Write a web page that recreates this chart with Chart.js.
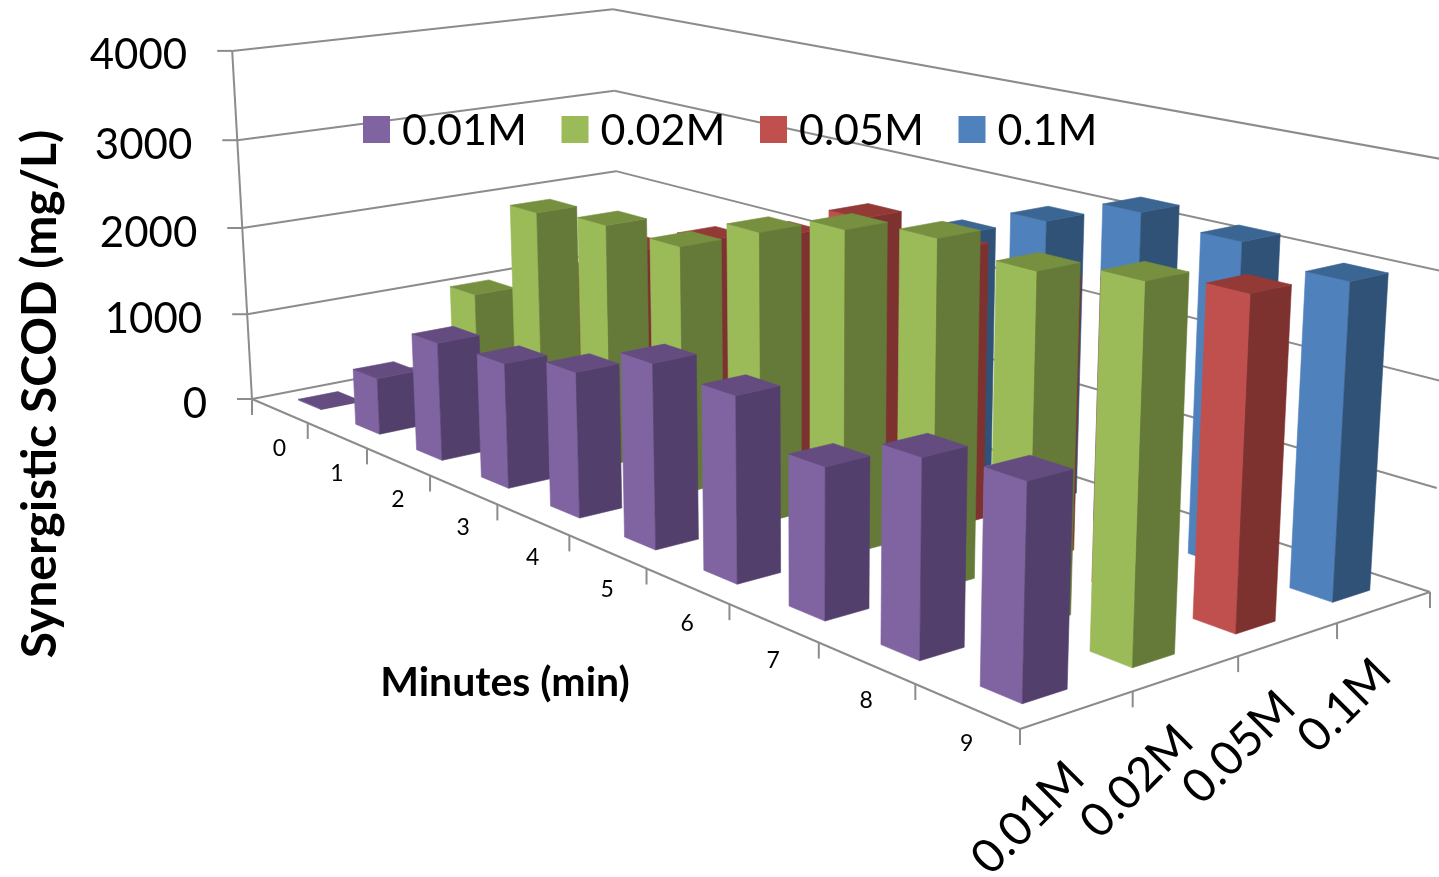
<!DOCTYPE html>
<html>
<head>
<meta charset="utf-8">
<title>Synergistic SCOD</title>
<script src="https://cdn.jsdelivr.net/npm/chart.js@4"></script>
<style>
  html, body { margin: 0; padding: 0; background: #fff; }
  canvas { display: block; }
</style>
</head>
<body>
<canvas id="chart" width="1439" height="877"></canvas>
<script>
const minutes = ["0", "1", "2", "3", "4", "5", "6", "7", "8", "9"];
const seriesNames = ["0.01M", "0.02M", "0.05M", "0.1M"];
const valueTicks = [0, 1000, 2000, 3000, 4000];

const conc001 = [10, 630, 1285, 1325, 1500, 1855, 1815, 1440, 1825, 1925];
const conc002 = [10, 1370, 2505, 2580, 2575, 2935, 3175, 3310, 3240, 3385];
const conc005 = [10, 1390, 1900, 2235, 2500, 2895, 2790, 2700, 2900, 3080];
const conc01 = [10, 1100, 1700, 1900, 2100, 2550, 2900, 3195, 3130, 2990];

const frontColors = ["#8064A2", "#9BBB59", "#C0504D", "#4F81BD"];
const sideColors = ["#533F6B", "#657A39", "#7D3230", "#305277"];
const topColors = ["#644B80", "#769040", "#933A37", "#3B6593"];

// floor corners and where the verticals converge
const cornerA = [252, 399];
const cornerB = [1020, 729];
const cornerC = [1430, 592];
const cornerD = [619, 328];
const vanish = [810, 10200];
const wallHeight = -0.0343;
const barShare = 0.4;

const sx = cornerA[0] - cornerB[0] + cornerC[0] - cornerD[0];
const sy = cornerA[1] - cornerB[1] + cornerC[1] - cornerD[1];
const dx1 = cornerB[0] - cornerC[0];
const dx2 = cornerD[0] - cornerC[0];
const dy1 = cornerB[1] - cornerC[1];
const dy2 = cornerD[1] - cornerC[1];
const det = dx1 * dy2 - dx2 * dy1;
const g = (sx * dy2 - dx2 * sy) / det;
const h = (dx1 * sy - sx * dy1) / det;

// u runs along minutes, w along the series, t up the value axis (all 0..1)
function project(u, w, t) {
  const den = g * u + h * w + 1 + t * wallHeight;
  const px = (cornerB[0] - cornerA[0] + g * cornerB[0]) * u + (cornerD[0] - cornerA[0] + h * cornerD[0]) * w + cornerA[0] + t * wallHeight * vanish[0];
  const py = (cornerB[1] - cornerA[1] + g * cornerB[1]) * u + (cornerD[1] - cornerA[1] + h * cornerD[1]) * w + cornerA[1] + t * wallHeight * vanish[1];
  return [px / den, py / den];
}

function fraction(chart, v) {
  const y = chart.scales.y;
  return (y.bottom - y.getPixelForValue(v)) / (y.bottom - y.top);
}

function line(ctx, a, b) {
  ctx.beginPath();
  ctx.moveTo(a[0], a[1]);
  ctx.lineTo(b[0], b[1]);
  ctx.stroke();
}

function face(ctx, pts, color) {
  ctx.fillStyle = color;
  ctx.strokeStyle = color;
  ctx.lineWidth = 0.6;
  ctx.beginPath();
  pts.forEach((p, i) => (i ? ctx.lineTo(p[0], p[1]) : ctx.moveTo(p[0], p[1])));
  ctx.closePath();
  ctx.fill();
  ctx.stroke();
}

const box3d = {
  id: "box3d",
  beforeDatasetsDraw(chart) {
    const ctx = chart.ctx;
    ctx.save();
    ctx.strokeStyle = "#8C8C8C";
    ctx.lineWidth = 2;
    valueTicks.forEach((tick) => {
      const t = fraction(chart, tick);
      const left = project(0, 0, t);
      const corner = project(0, 1, t);
      line(ctx, [left[0] - 15, left[1]], left);
      line(ctx, left, corner);
      line(ctx, corner, project(1, 1, t));
    });
    line(ctx, project(0, 0, 0), project(0, 0, 1));
    line(ctx, project(0, 0, 0), project(1, 0, 0));
    line(ctx, project(1, 0, 0), project(1, 1, 0));
    minutes.concat("").forEach((m, i) => {
      const p = project(i / minutes.length, 0, 0);
      line(ctx, p, [p[0], p[1] + 16]);
    });
    seriesNames.concat("").forEach((s, j) => {
      const p = project(1, j / seriesNames.length, 0);
      line(ctx, p, [p[0], p[1] + 16]);
    });
    ctx.restore();
  },
  beforeDatasetDraw(chart, args) {
    const ctx = chart.ctx;
    const j = args.index;
    const x = chart.scales.x;
    const nw = seriesNames.length;
    const halfU = (barShare / 2) / minutes.length;
    const w0 = (j + 0.5) / nw - (barShare / 2) / nw;
    const w1 = (j + 0.5) / nw + (barShare / 2) / nw;
    ctx.save();
    chart.data.datasets[j].data.forEach((v, i) => {
      const u = (x.getPixelForValue(i) - x.left) / (x.right - x.left);
      const u0 = u - halfU;
      const u1 = u + halfU;
      const t = fraction(chart, v);
      face(ctx, [project(u0, w0, 0), project(u1, w0, 0), project(u1, w0, t), project(u0, w0, t)], frontColors[j]);
      face(ctx, [project(u1, w0, 0), project(u1, w1, 0), project(u1, w1, t), project(u1, w0, t)], sideColors[j]);
      face(ctx, [project(u0, w0, t), project(u1, w0, t), project(u1, w1, t), project(u0, w1, t)], topColors[j]);
    });
    ctx.restore();
    return false;
  },
  afterDatasetsDraw(chart) {
    const ctx = chart.ctx;
    ctx.save();
    ctx.fillStyle = "#000";

    // value axis labels
    ctx.font = "42px Lato";
    ctx.textAlign = "right";
    ctx.textBaseline = "middle";
    valueTicks.forEach((tick) => {
      const p = project(0, 0, fraction(chart, tick));
      ctx.fillText(tick, p[0] - 45, p[1] + 5);
    });

    // minute labels
    ctx.font = "23px Lato";
    ctx.textAlign = "center";
    minutes.forEach((m, i) => {
      const p = project((i + 0.5) / minutes.length, 0, 0);
      ctx.fillText(m, p[0], p[1] + 38);
    });

    // series labels, slanted under the floor
    ctx.font = "47px Lato";
    ctx.textAlign = "right";
    seriesNames.forEach((s, j) => {
      const p = project(1, (j + 0.5) / seriesNames.length, 0);
      ctx.save();
      ctx.translate(p[0] - 1, p[1] + 60);
      ctx.rotate(-Math.PI / 4);
      ctx.fillText(s, 0, 0);
      ctx.restore();
    });

    // axis titles
    ctx.font = "bold 41px Lato";
    ctx.textAlign = "center";
    ctx.fillText("Minutes (min)", 505, 683);
    ctx.save();
    ctx.translate(41, 394);
    ctx.rotate(-Math.PI / 2);
    ctx.font = "bold 48px Lato";
    ctx.fillText("Synergistic SCOD (mg/L)", 0, 0);
    ctx.restore();

    // legend
    ctx.font = "43px Lato";
    ctx.textAlign = "left";
    seriesNames.forEach((s, j) => {
      const lx = 363 + j * 198.5;
      ctx.fillStyle = frontColors[j];
      ctx.fillRect(lx, 116, 27, 27);
      ctx.fillStyle = "#000";
      ctx.fillText(s, lx + 39, 131);
    });
    ctx.restore();
  },
};

new Chart(document.getElementById("chart"), {
  type: "bar",
  data: {
    labels: minutes,
    datasets: [
      { label: seriesNames[0], data: conc001, backgroundColor: frontColors[0] },
      { label: seriesNames[1], data: conc002, backgroundColor: frontColors[1] },
      { label: seriesNames[2], data: conc005, backgroundColor: frontColors[2] },
      { label: seriesNames[3], data: conc01, backgroundColor: frontColors[3] },
    ],
  },
  options: {
    responsive: false,
    animation: false,
    plugins: { legend: { display: false }, tooltip: { enabled: false } },
    scales: {
      x: { display: false },
      y: { display: false, min: 0, max: 4000, ticks: { stepSize: 1000 } },
    },
  },
  plugins: [box3d],
});
</script>
</body>
</html>
